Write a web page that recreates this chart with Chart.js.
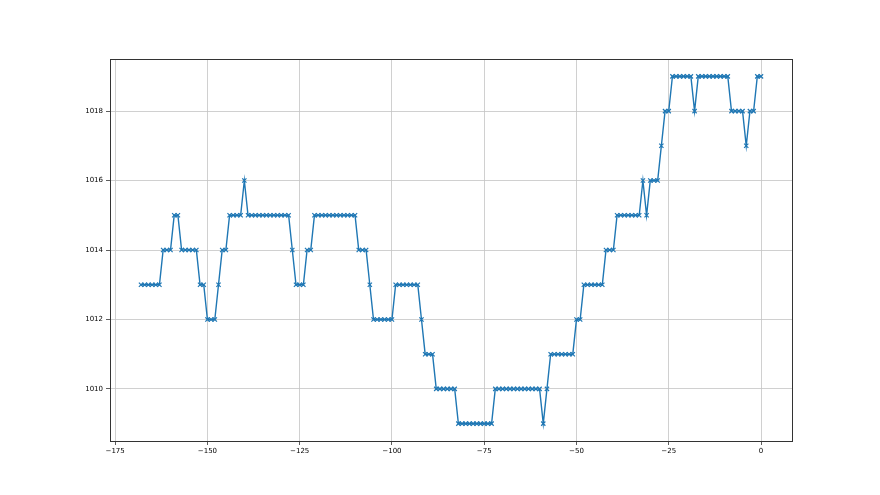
<!DOCTYPE html>
<html>
<head>
<meta charset="utf-8">
<script src="https://cdn.jsdelivr.net/npm/chart.js@4/dist/chart.umd.min.js"></script>
<style>
  html, body { margin: 0; padding: 0; background: #fff; }
  #chart { display: block; }
</style>
</head>
<body>
<canvas id="chart" width="880" height="495"></canvas>
<script>
// hours before now
const hours = [
  -168, -167, -166, -165, -164, -163, -162, -161, -160, -159, -158, -157, -156, -155, -154, -153,
  -152, -151, -150, -149, -148, -147, -146, -145, -144, -143, -142, -141, -140, -139, -138, -137,
  -136, -135, -134, -133, -132, -131, -130, -129, -128, -127, -126, -125, -124, -123, -122, -121,
  -120, -119, -118, -117, -116, -115, -114, -113, -112, -111, -110, -109, -108, -107, -106, -105,
  -104, -103, -102, -101, -100, -99, -98, -97, -96, -95, -94, -93, -92, -91, -90, -89,
  -88, -87, -86, -85, -84, -83, -82, -81, -80, -79, -78, -77, -76, -75, -74, -73,
  -72, -71, -70, -69, -68, -67, -66, -65, -64, -63, -62, -61, -60, -59, -58, -57,
  -56, -55, -54, -53, -52, -51, -50, -49, -48, -47, -46, -45, -44, -43, -42, -41,
  -40, -39, -38, -37, -36, -35, -34, -33, -32, -31, -30, -29, -28, -27, -26, -25,
  -24, -23, -22, -21, -20, -19, -18, -17, -16, -15, -14, -13, -12, -11, -10, -9,
  -8, -7, -6, -5, -4, -3, -2, -1, 0
];

// pressure readings, one per hour
const pressure = [
  1013, 1013, 1013, 1013, 1013, 1013, 1014, 1014, 1014, 1015, 1015, 1014, 1014, 1014, 1014, 1014,
  1013, 1013, 1012, 1012, 1012, 1013, 1014, 1014, 1015, 1015, 1015, 1015, 1016, 1015, 1015, 1015,
  1015, 1015, 1015, 1015, 1015, 1015, 1015, 1015, 1015, 1014, 1013, 1013, 1013, 1014, 1014, 1015,
  1015, 1015, 1015, 1015, 1015, 1015, 1015, 1015, 1015, 1015, 1015, 1014, 1014, 1014, 1013, 1012,
  1012, 1012, 1012, 1012, 1012, 1013, 1013, 1013, 1013, 1013, 1013, 1013, 1012, 1011, 1011, 1011,
  1010, 1010, 1010, 1010, 1010, 1010, 1009, 1009, 1009, 1009, 1009, 1009, 1009, 1009, 1009, 1009,
  1010, 1010, 1010, 1010, 1010, 1010, 1010, 1010, 1010, 1010, 1010, 1010, 1010, 1009, 1010, 1011,
  1011, 1011, 1011, 1011, 1011, 1011, 1012, 1012, 1013, 1013, 1013, 1013, 1013, 1013, 1014, 1014,
  1014, 1015, 1015, 1015, 1015, 1015, 1015, 1015, 1016, 1015, 1016, 1016, 1016, 1017, 1018, 1018,
  1019, 1019, 1019, 1019, 1019, 1019, 1018, 1019, 1019, 1019, 1019, 1019, 1019, 1019, 1019, 1019,
  1018, 1018, 1018, 1018, 1017, 1018, 1018, 1019, 1019
];

const xTicks = [-175, -150, -125, -100, -75, -50, -25, 0];
const yTicks = [1010, 1012, 1014, 1016, 1018];

const points = hours.map((h, i) => ({ x: h, y: pressure[i] }));

// matplotlib style box around the plot
const frame = {
  id: 'frame',
  afterDraw(chart) {
    const a = chart.chartArea;
    const ctx = chart.ctx;
    ctx.save();
    ctx.strokeStyle = '#333';
    ctx.lineWidth = 1;
    ctx.strokeRect(Math.round(a.left) + 0.5, Math.round(a.top) + 0.5,
      Math.round(a.right - a.left), Math.round(a.bottom - a.top));
    ctx.restore();
  }
};

const tickFont = { family: 'DejaVu Sans', size: 7 };

new Chart(document.getElementById('chart'), {
  type: 'line',
  data: {
    datasets: [{
      data: points,
      borderColor: '#1f77b4',
      backgroundColor: '#1f77b4',
      borderWidth: 1.4,
      pointStyle: 'crossRot',
      pointRadius: 3,
      pointBorderWidth: 1.2,
      pointBorderColor: '#1f77b4',
      tension: 0,
      fill: false
    }]
  },
  options: {
    responsive: false,
    animation: false,
    devicePixelRatio: 1,
    layout: { padding: { top: 59, right: 88, left: 0, bottom: 0 } },
    plugins: {
      legend: { display: false },
      tooltip: { enabled: false }
    },
    scales: {
      x: {
        type: 'linear',
        min: -176.4,
        max: 8.4,
        afterBuildTicks: (scale) => { scale.ticks = xTicks.map(v => ({ value: v })); },
        afterFit: (scale) => { scale.height = 54; },
        grid: { color: '#c4c4c4', lineWidth: 0.8, tickLength: 4, tickColor: '#333', drawOnChartArea: true },
        border: { display: false },
        ticks: {
          font: tickFont,
          color: '#000',
          padding: 2,
          maxRotation: 0,
          callback: (v) => String(v).replace('-', '\u2212')
        }
      },
      y: {
        type: 'linear',
        min: 1008.5,
        max: 1019.5,
        afterBuildTicks: (scale) => { scale.ticks = yTicks.map(v => ({ value: v })); },
        afterFit: (scale) => { scale.width = 110; },
        grid: { color: '#c4c4c4', lineWidth: 0.8, tickLength: 4, tickColor: '#333' },
        border: { display: false },
        ticks: {
          font: tickFont,
          color: '#000',
          padding: 3,
          callback: (v) => String(v)
        }
      }
    }
  },
  plugins: [frame]
});
</script>
</body>
</html>
